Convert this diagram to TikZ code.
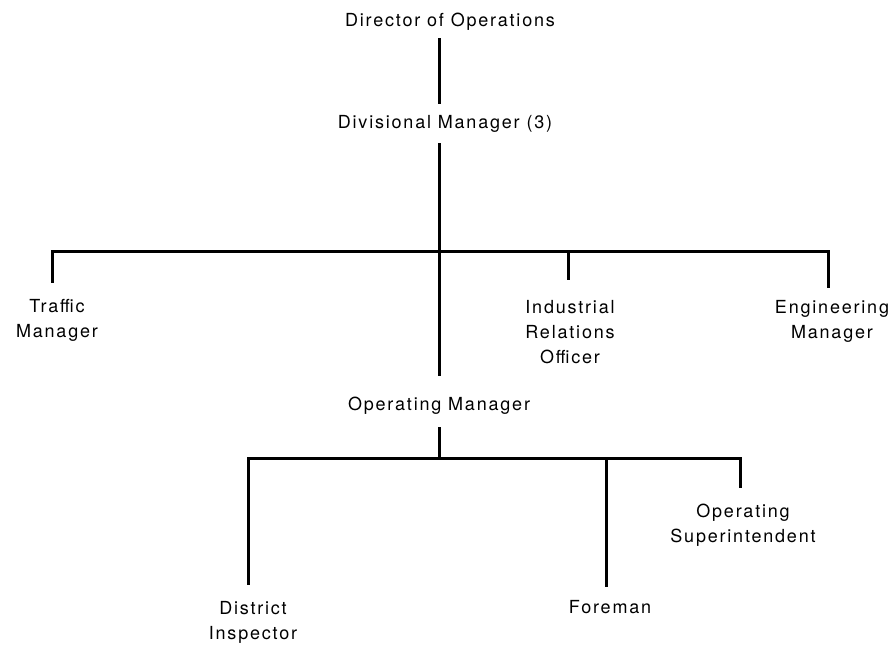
\documentclass[tikz,border=0pt]{standalone}
\usepackage{fontspec}
\setmainfont{TeX Gyre Heros}[LetterSpace=10]
\usetikzlibrary{calc}
\begin{document}
\begin{tikzpicture}[x=1pt,y=-1pt,
  post/.style={font=\fontsize{18}{25}\selectfont, inner sep=0pt, align=center, anchor=base},
  link/.style={line width=3pt, line cap=butt, line join=miter}]
\path[use as bounding box, fill=white] (0,0) rectangle (893,645);

% posts (base anchor sits on the last line of each label)
\node[post] (dir) at (450,26) {Director of Operations};
\node[post] (div) at (445,128) {Divisional Manager (3)};
\node[post] (traffic) at (57,337) {Traffic\\Manager};
\node[post] (ind) at (570,363) {Industrial\\Relations\\Officer};
\node[post] (eng) at (832,338) {Engineering\\Manager};
\node[post] (om) at (439,410) {Operating Manager};
\node[post] (opsup) at (743,542) {Operating\\Superintendent};
\node[post] (district) at (253,639) {District\\Inspector};
\node[post] (foreman) at (610,613) {Foreman};

% junctions
\coordinate (j1) at (439,251);
\coordinate (b1L) at (52,251);
\coordinate (b1I) at (568,251);
\coordinate (b1R) at (828,251);
\coordinate (j2) at (439,458);
\coordinate (b2L) at (248,458);
\coordinate (b2F) at (606,458);
\coordinate (b2R) at (740,458);

% upper chain
\draw[link] ([yshift=-8pt]dir.south -| j1) -- ([yshift=11pt]div.north -| j1);
\draw[link] ([yshift=-11pt]div.south -| j1) -- ([yshift=20pt]om.north -| j1);

% staff bar
\draw[link] ([yshift=16pt]traffic.north -| b1L) -- (b1L) -- (b1R) -- ([yshift=12pt]eng.north -| b1R);
\draw[link] ([yshift=20pt]ind.north -| b1I) -- (b1I);

% operating bar
\draw[link] ([yshift=-13pt]om.south -| j2) -- (j2);
\draw[link] ([yshift=16pt]district.north -| b2L) -- (b2L) -- (b2R) -- ([yshift=15pt]opsup.north -| b2R);
\draw[link] ([yshift=13pt]foreman.north -| b2F) -- (b2F);
\end{tikzpicture}
\end{document}
